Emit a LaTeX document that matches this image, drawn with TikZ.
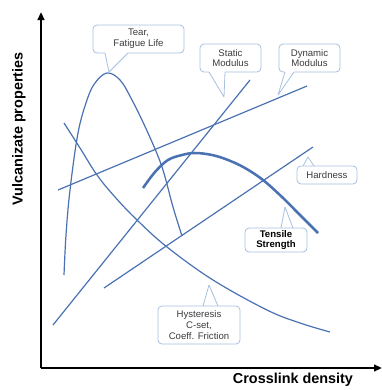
\documentclass[tikz,border=0pt]{standalone}
\usepackage{fontspec}
\setmainfont{Liberation Sans}
\usetikzlibrary{arrows.meta,calc}
\definecolor{curveblue}{RGB}{74,114,178}
\definecolor{calloutblue}{RGB}{168,192,224}
\definecolor{txtgray}{RGB}{60,60,60}
\tikzset{
  axisline/.style={line width=1.5pt, black, -{Triangle[length=6pt,width=5pt]}},
  curve/.style={curveblue, line width=0.9pt},
  thickcurve/.style={curveblue, line width=1.9pt},
  callout/.style={draw=calloutblue, line width=0.6pt, fill=white, rounded corners=3pt,
    align=center, inner sep=0pt, text=txtgray, font=\fontsize{7.2}{8}\selectfont},
  boxsize/.style 2 args={minimum width=#1*0.75pt, minimum height=#2*0.75pt},
  axislabel/.style={font=\bfseries\fontsize{10.8}{12}\selectfont, text=black, inner sep=0pt}
}
\newcommand{\pointer}[3]{%
  \fill[white] ($#1+(0,-1.2)$) -- #1 -- #2 -- #3 -- ($#3+(0,-1.2)$) -- cycle;
  \draw[calloutblue, line width=0.6pt, line join=round] #1 -- #2 -- #3;}
\begin{document}
\begin{tikzpicture}[x=0.75pt,y=-0.75pt]
\useasboundingbox (0,0) rectangle (382,390);
% axes
\coordinate (origin) at (41,368);
\coordinate (ytop) at (41,12);
\coordinate (xend) at (382,368);
\draw[axisline] (origin) -- (ytop);
\draw[axisline] (origin) -- (xend);
\node[axislabel, rotate=90] (ylab) at (19,129) {Vulcanizate properties};
\node[axislabel] (xlab) at (293,380) {Crosslink density};

% curves
\draw[curve] plot[smooth, tension=0.6] coordinates {(64,275) (66,235) (70,190) (78,133) (87,100) (95,83) (107,73) (120,80) (132,100) (148,133) (162,167) (173,207) (182,236)};
\draw[curve] plot[smooth, tension=0.6] coordinates {(64,123) (80,148) (97,175) (115,197) (137,220) (167,247) (213,280) (267,310) (300,323) (330,332)};
\draw[curve] (53,325) -- (250,80);
\draw[curve] (58,190) -- (307,86);
\draw[curve] (104,288) -- (313,147);
\draw[thickcurve] plot[smooth, tension=0.6] coordinates {(143,188) (155,172) (168,160) (182,155) (195,153) (212,155) (228,160) (245,168) (263,180) (282,197) (298,213) (318,233)};

% callouts
\node[callout, boxsize={91}{28}] (tear) at (138.5,39) {Tear,\\Fatigue Life};
\pointer{(105,53)}{(109,72)}{(128,53)}
\node[callout, boxsize={61}{28}] (static) at (230.5,58) {Static\\Modulus};
\pointer{(209,72)}{(224,97)}{(225,72)}
\node[callout, boxsize={61}{28}] (dynamic) at (309.5,58) {Dynamic\\Modulus};
\pointer{(285,72)}{(278,95)}{(294,72)}
\node[callout, boxsize={60}{18}] (hard) at (327,175) {Hardness};
\pointer{(303,166)}{(308,157)}{(314,166)}
\node[callout, boxsize={62}{24}, text=black, font=\bfseries\fontsize{7.2}{8}\selectfont] (tens) at (276,240) {Tensile\\Strength};
\pointer{(281,228)}{(285,207)}{(293,228)}
\node[callout, boxsize={82}{38}] (hyst) at (199,325) {Hysteresis\\C-set,\\Coeff. Friction};
\pointer{(203,306)}{(209,285)}{(218,306)}
\end{tikzpicture}
\end{document}
